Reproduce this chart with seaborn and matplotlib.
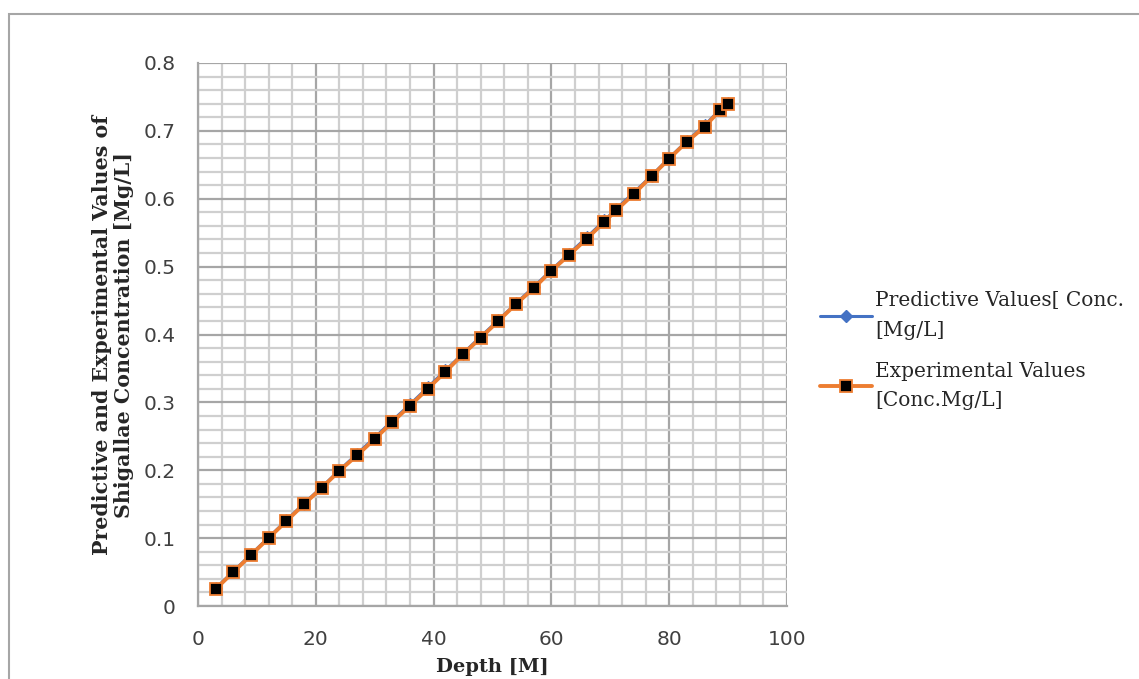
import numpy as np
import pandas as pd
import matplotlib
matplotlib.use("Agg")
import matplotlib.pyplot as plt
import seaborn as sns
from matplotlib.ticker import MultipleLocator, FuncFormatter
from matplotlib.lines import Line2D
from matplotlib.patches import Rectangle

# ---- data ----
depth = [3, 6, 9, 12, 15, 18, 21, 24, 27, 30, 33, 36, 39, 42, 45, 48, 51, 54, 57,
         60, 63, 66, 69, 71, 74, 77, 80, 83, 86, 88.7, 90]
experimental = [0.025, 0.050, 0.075, 0.100, 0.125, 0.150, 0.174, 0.199, 0.222,
                0.246, 0.271, 0.295, 0.320, 0.345, 0.371, 0.395, 0.420, 0.445,
                0.468, 0.494, 0.517, 0.541, 0.566, 0.583, 0.607, 0.633, 0.659,
                0.684, 0.706, 0.731, 0.740]
predictive = [0.026, 0.051, 0.076, 0.101, 0.126, 0.151, 0.175, 0.200, 0.224,
              0.248, 0.273, 0.297, 0.322, 0.347, 0.372, 0.397, 0.421, 0.446,
              0.470, 0.495, 0.519, 0.543, 0.568, 0.585, 0.609, 0.634, 0.660,
              0.685, 0.708, 0.732, 0.741]
x_ticks = [0, 20, 40, 60, 80, 100]
y_ticks = [0, 0.1, 0.2, 0.3, 0.4, 0.5, 0.6, 0.7, 0.8]
label_pred = "Predictive Values[ Conc.\n[Mg/L]"
label_exp = "Experimental Values\n[Conc.Mg/L]"
x_label = "Depth [M]"
y_label = "Predictive and Experimental Values of\nShigallae Concentration [Mg/L]"

BLUE = "#4472C4"
ORANGE = "#ED7D31"

sns.set_style("white")
plt.rcParams["font.family"] = ["DejaVu Sans"]

fig = plt.figure(figsize=(11.39, 6.79), dpi=100)
ax = fig.add_axes([198 / 1139, 1 - 606 / 679, (787 - 198) / 1139, (606 - 63) / 679])

df_pred = pd.DataFrame({"Depth": depth, "Value": predictive})
df_exp = pd.DataFrame({"Depth": depth, "Value": experimental})

sns.lineplot(data=df_pred, x="Depth", y="Value", ax=ax, color=BLUE, linewidth=2.2,
             marker="D", markersize=6, markerfacecolor=BLUE, markeredgecolor=BLUE,
             zorder=3, legend=False)
sns.lineplot(data=df_exp, x="Depth", y="Value", ax=ax, color=ORANGE, linewidth=2.8,
             marker="s", markersize=9, markerfacecolor="black", markeredgecolor=ORANGE,
             markeredgewidth=1.3, zorder=4, legend=False)

ax.set_xlim(0, 100)
ax.set_ylim(0, 0.8)
ax.set_xticks(x_ticks)
ax.set_yticks(y_ticks)
ax.xaxis.set_minor_locator(MultipleLocator(4))
ax.yaxis.set_minor_locator(MultipleLocator(0.02))
ax.yaxis.set_major_formatter(FuncFormatter(lambda v, p: "0" if v == 0 else f"{v:g}"))

ax.grid(which="minor", color="#cfcfcf", linewidth=1.6, zorder=0)
ax.grid(which="major", color="#a6a6a6", linewidth=1.6, zorder=0)
ax.set_axisbelow(True)

for s in ["top", "right"]:
    ax.spines[s].set_visible(False)
for s in ["left", "bottom"]:
    ax.spines[s].set_color("#a6a6a6")
    ax.spines[s].set_linewidth(1.6)

ax.tick_params(axis="both", which="major", direction="out", length=6, width=1.6,
               color="#a6a6a6", labelsize=14.5, labelcolor="#404040")
ax.tick_params(axis="both", which="minor", length=0)
ax.tick_params(axis="x", pad=11)
ax.tick_params(axis="y", pad=10)

ax.set_xlabel(x_label, family="DejaVu Serif", fontweight="bold", fontsize=14,
              color="#262626", labelpad=7)
ax.set_ylabel(y_label, family="DejaVu Serif", fontweight="bold", fontsize=14.8,
              color="#262626", labelpad=7, linespacing=1.1)

handles = [
    Line2D([0], [0], color=BLUE, linewidth=2.2, marker="D", markersize=6,
           markerfacecolor=BLUE, markeredgecolor=BLUE),
    Line2D([0], [0], color=ORANGE, linewidth=2.8, marker="s", markersize=9,
           markerfacecolor="black", markeredgecolor=ORANGE, markeredgewidth=1.3),
]
leg = fig.legend(handles, [label_pred, label_exp], loc="upper left",
                 bbox_to_anchor=(812 / 1139, 1 - 283 / 679), frameon=False,
                 prop={"family": "DejaVu Serif", "size": 14.5}, handlelength=2.6,
                 handletextpad=0.15, labelspacing=1.1, borderaxespad=0)
for t in leg.get_texts():
    t.set_color("#262626")
    t.set_linespacing(1.7)

# outer chart border
fig.add_artist(Rectangle((9 / 1139, -0.1), 1.2, 1.1 - 14 / 679, transform=fig.transFigure,
                         fill=False, edgecolor="#a6a6a6", linewidth=1.5, clip_on=False))

fig.savefig("out.png", dpi=100)
